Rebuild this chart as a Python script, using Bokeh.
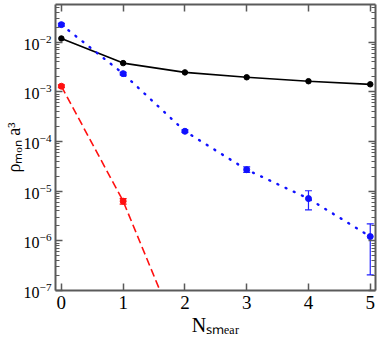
from bokeh.plotting import figure
from bokeh.models import (ColumnDataSource, Whisker, TeeHead, LinearAxis, LogAxis,
                          FixedTicker, Range1d, LogTickFormatter,
                          CustomLabelingPolicy)
from bokeh.embed import file_html
from bokeh.resources import INLINE

# ---- data ----
n_smear = [0, 1, 2, 3, 4, 5]

black_y = [1.19e-2, 3.8e-3, 2.47e-3, 1.97e-3, 1.64e-3, 1.42e-3]

blue_y = [2.26e-2, 2.33e-3, 1.61e-4, 2.71e-5, 7.1e-6, 1.22e-6]
blue_lo = [2.12e-2, 2.20e-3, 1.52e-4, 2.40e-5, 4.2e-6, 2.06e-7]
blue_hi = [2.40e-2, 2.47e-3, 1.71e-4, 3.10e-5, 1.02e-5, 2.2e-6]

red_x = [0, 1, 2]
red_y = [1.30e-3, 6.3e-6, 6.0e-9]
red_lo = [1.22e-3, 5.5e-6, 5.3e-9]
red_hi = [1.38e-3, 7.1e-6, 6.8e-9]

x_ticks = [0, 1, 2, 3, 4, 5]
y_decades = [-7, -6, -5, -4, -3, -2]

x_title = "N\u209b\u2098\u2091\u2090\u1d63"      # N_smear
y_title = "\u03c1\u2098\u2092\u2099 a\u00b3"        # rho_mon a^3

FONT = "Liberation Serif"
AX = "#5a5a5a"

p = figure(width=380, height=338, output_backend="svg", toolbar_location=None,
           y_axis_type="log",
           x_range=Range1d(-0.095, 5.085), y_range=Range1d(1e-7, 10 ** -1.24),
           min_border_left=50, min_border_right=1, min_border_top=1,
           min_border_bottom=48)
p.outline_line_color = None
p.xgrid.visible = False
p.ygrid.visible = False
p.background_fill_color = "white"
p.border_fill_color = "white"

yt_major = [10.0 ** e for e in y_decades]
yt_minor = [m * 10.0 ** e for e in y_decades for m in range(2, 10)]
xt = FixedTicker(ticks=x_ticks, minor_ticks=[])
yt = FixedTicker(ticks=yt_major, minor_ticks=yt_minor)

hide_all = CustomLabelingPolicy(code="""
    try { return new indices.constructor(indices.size, 0) }
    catch (e) {
        for (const i of Array.from(indices)) indices.unset(i)
        return indices
    }
""")


def style(ax, labels=True):
    ax.axis_line_color = AX
    ax.axis_line_width = 2
    ax.major_tick_in = 7
    ax.major_tick_out = 0
    ax.major_tick_line_color = AX
    ax.major_tick_line_width = 1.5
    ax.minor_tick_line_color = AX
    ax.minor_tick_line_width = 1.2
    if labels:
        ax.major_label_text_font = FONT
        ax.major_label_text_color = "black"
        ax.axis_label_text_font = FONT
        ax.axis_label_text_font_style = "normal"
        ax.axis_label_text_color = "black"
    else:
        ax.axis_label = None
        ax.major_label_policy = hide_all
        ax.major_label_standoff = 0
        ax.major_label_text_font_size = "1px"


xa = p.xaxis[0]
xa.ticker = xt
style(xa)
xa.minor_tick_in = 0
xa.minor_tick_out = 0
xa.major_label_text_font_size = "19px"
xa.major_label_standoff = 5
xa.axis_label = x_title
xa.axis_label_text_font_size = "20px"
xa.axis_label_standoff = 2

ya = p.yaxis[0]
ya.ticker = yt
ya.formatter = LogTickFormatter()
style(ya)
ya.minor_tick_in = 4
ya.minor_tick_out = 0
ya.major_label_text_font_size = "16px"
ya.major_label_standoff = 4
ya.axis_label = y_title
ya.axis_label_text_font_size = "18px"
ya.axis_label_standoff = -3

top = LinearAxis(ticker=xt)
style(top, labels=False)
top.minor_tick_in = 0
top.minor_tick_out = 0
p.add_layout(top, "above")

right = LogAxis(ticker=yt)
style(right, labels=False)
right.minor_tick_in = 4
right.minor_tick_out = 0
p.add_layout(right, "right")

# ---- series ----
src_k = ColumnDataSource(dict(x=n_smear, y=black_y))
p.line("x", "y", source=src_k, line_color="black", line_width=1.6)
p.scatter("x", "y", source=src_k, size=5.5, color="black")

src_b = ColumnDataSource(dict(x=n_smear, y=blue_y, lo=blue_lo, hi=blue_hi))
p.line("x", "y", source=src_b, line_color="#1010ff", line_width=2.4,
       line_dash="1 8", line_cap="round")
p.add_layout(Whisker(source=src_b, base="x", lower="lo", upper="hi",
                     line_color="#2020ff", line_width=1.2,
                     upper_head=TeeHead(size=7, line_color="#2020ff", line_width=1.2),
                     lower_head=TeeHead(size=7, line_color="#2020ff", line_width=1.2)))
p.scatter("x", "y", source=src_b, size=6, color="#1010ff")

src_r = ColumnDataSource(dict(x=red_x, y=red_y, lo=red_lo, hi=red_hi))
p.line("x", "y", source=src_r, line_color="#ff1010", line_width=1.6,
       line_dash="8 4")
p.add_layout(Whisker(source=src_r, base="x", lower="lo", upper="hi",
                     line_color="#ff1010", line_width=1.2,
                     upper_head=TeeHead(size=7, line_color="#ff1010", line_width=1.2),
                     lower_head=TeeHead(size=7, line_color="#ff1010", line_width=1.2)))
p.scatter("x", "y", source=src_r, size=6, color="#ff1010")

open("out.html", "w").write(file_html(p, INLINE))
